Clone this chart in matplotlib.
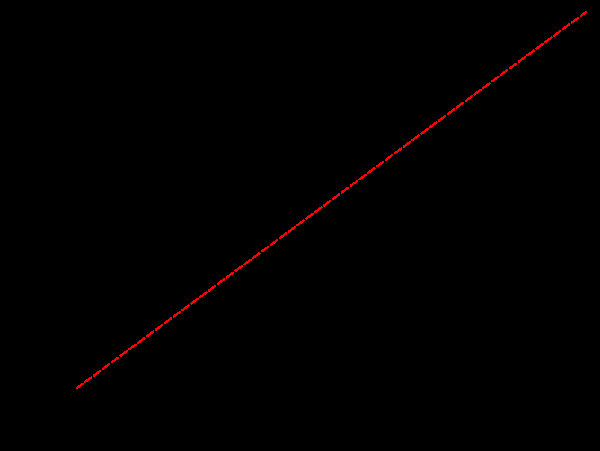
import matplotlib
matplotlib.use("Agg")
import matplotlib.pyplot as plt

# endpoints of the diagonal (data units)
x_vals = [0.0, 1.0]
y_vals = [0.0, 1.0]

fig = plt.figure(figsize=(6.0, 4.51), dpi=100, facecolor="black")
# axes placed so the diagonal runs from lower-left to upper-right corner of the plot
ax = fig.add_axes([76 / 600, (451 - 388.7) / 451, (587 - 76) / 600, (388.7 - 11.3) / 451])
ax.set_facecolor("black")
ax.plot(x_vals, y_vals, color="red", linewidth=1.0, linestyle=(0, (6, 1.5)),
        antialiased=False)
ax.set_xlim(0, 1)
ax.set_ylim(0, 1)
ax.axis("off")

fig.savefig("out.png", dpi=100, facecolor="black")
